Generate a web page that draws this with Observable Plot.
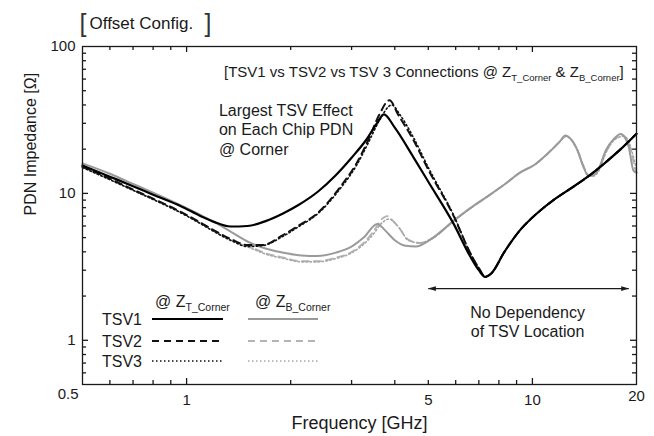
<!DOCTYPE html>
<html><head><meta charset="utf-8">
<script src="https://cdn.jsdelivr.net/npm/d3@7"></script>
<script src="https://cdn.jsdelivr.net/npm/@observablehq/plot@0.6"></script>
<style>
html,body{margin:0;padding:0;background:#fff;}
#chart{width:654px;height:436px;}
</style></head><body><div id="chart"></div>
<script>
// ---------------- data (frequency GHz, impedance Ohm) ----------------
const tsv1Top = [[0.5,15.5],[0.6,13.0],[0.7,11.2],[0.8,9.8],[0.96,8.2],[1.1,7.0],[1.2,6.4],[1.34,5.95],[1.5,6.0],[1.7,6.5],[1.9,7.3],[2.1,8.3],[2.4,10.3],[2.7,13.3],[3.0,17.5],[3.3,23],[3.55,30],[3.72,34.5],[4.0,28],[4.53,17.6],[5.0,12],[5.92,6.2],[6.62,3.7],[7.0,3.0],[7.3,2.7],[7.6,2.85],[8.3,4.0],[9.2,5.6],[10.3,7.3],[11.5,9.0],[12.9,10.8],[14.4,12.9],[16.1,15.9],[18,20],[20,25.5]];
const tsv2Top = [[0.5,15.2],[0.6,12.6],[0.7,10.6],[0.8,9.2],[0.96,7.5],[1.1,6.3],[1.2,5.6],[1.34,4.9],[1.5,4.45],[1.65,4.45],[1.9,5.2],[2.1,6.0],[2.4,7.4],[2.8,11.3],[3.1,16],[3.35,23],[3.6,34],[3.86,43],[4.1,34],[4.53,23],[5.0,14.5],[5.92,7.0],[6.62,3.9],[7.0,3.1],[7.3,2.72],[7.6,2.85],[8.3,4.0],[9.2,5.6],[10.3,7.3],[11.5,9.0],[12.9,10.8],[14.4,12.9],[16.1,15.9],[18,20],[20,25.5]];
const tsv3Top = [[0.5,15.0],[0.6,12.4],[0.7,10.5],[0.8,9.1],[0.96,7.4],[1.1,6.2],[1.2,5.5],[1.34,4.8],[1.5,4.35],[1.65,4.4],[1.9,5.1],[2.1,5.9],[2.4,7.3],[2.8,11.0],[3.1,15.5],[3.35,22],[3.6,31],[3.92,40],[4.15,34],[4.53,24],[5.0,15],[5.92,7.1],[6.62,3.9],[7.0,3.1],[7.3,2.7],[7.6,2.85],[8.3,4.0],[9.2,5.6],[10.3,7.3],[11.5,9.0],[12.9,10.8],[14.4,12.9],[16.1,15.9],[18,20],[20,25.5]];
const tsv1Bottom = [[0.5,16],[0.6,13.6],[0.7,11.6],[0.8,10.1],[0.96,8.3],[1.1,7.1],[1.2,6.4],[1.34,5.5],[1.53,4.6],[1.7,4.2],[1.91,3.95],[2.15,3.78],[2.39,3.75],[2.7,3.95],[2.98,4.3],[3.25,5.0],[3.56,6.2],[3.75,5.6],[4.0,4.8],[4.3,4.4],[4.6,4.35],[5.1,4.9],[5.92,6.5],[6.6,7.9],[7.4,9.5],[8.3,11.5],[9.23,13.9],[10.2,15.8],[11,18.4],[12,22.5],[12.45,24.8],[12.9,23.5],[13.5,19.6],[14.0,15.5],[14.5,13.2],[15.0,13.3],[15.5,14.5],[16.3,19.6],[17.2,23.5],[18,25.4],[18.6,23.5],[19.0,20.6],[19.6,14.3],[20,13.8]];
const tsv2Bottom = [[0.5,15.2],[0.6,12.6],[0.7,10.6],[0.8,9.2],[0.96,7.5],[1.1,6.3],[1.2,5.6],[1.34,4.85],[1.53,4.3],[1.7,3.9],[1.91,3.65],[2.15,3.45],[2.39,3.45],[2.7,3.65],[2.98,3.95],[3.25,4.6],[3.45,5.4],[3.7,6.8],[3.8,7.0],[3.95,6.5],[4.1,5.9],[4.37,4.85],[4.74,4.6],[5.1,4.9],[5.92,6.5],[6.6,7.9],[7.4,9.5],[8.3,11.5],[9.23,13.9],[10.2,15.8],[11,18.4],[12,22.5],[12.5,24.6],[12.95,23.3],[13.5,19.6],[14.0,15.5],[14.5,13.3],[15.0,13.2],[15.5,14.3],[16.3,19.2],[17.3,23.5],[18.2,24.8],[18.8,23],[19.3,19.5],[19.8,14.8],[20,14]];
const tsv3Bottom = [[0.5,15.0],[0.6,12.4],[0.7,10.5],[0.8,9.1],[0.96,7.4],[1.1,6.2],[1.2,5.5],[1.34,4.8],[1.53,4.25],[1.7,3.85],[1.91,3.6],[2.15,3.42],[2.39,3.42],[2.7,3.6],[2.98,3.9],[3.25,4.5],[3.45,5.2],[3.7,6.4],[3.85,6.7],[4.0,6.3],[4.15,5.7],[4.37,4.8],[4.74,4.6],[5.1,4.9],[5.92,6.5],[6.6,7.9],[7.4,9.5],[8.3,11.5],[9.23,13.9],[10.2,15.8],[11,18.4],[12,22.5],[12.5,24.4],[12.95,23.2],[13.5,19.8],[14.0,15.8],[14.5,13.4],[15.0,13.1],[15.5,14.0],[16.3,18.8],[17.3,23.2],[18.4,24.5],[19.0,22.5],[19.5,18.5],[20,14.5]];

const xTickLabels = [1, 5, 10];
const xEndLabel = [20];
const yTickLabels = [1, 10, 100];
const yEndLabel = [0.5];
const xMajorTicks = [1, 10];
const xMinorTicks = [0.6, 0.7, 0.8, 0.9, 2, 3, 4, 5, 6, 7, 8, 9];
const yMajorTicks = [1, 10];
const yMinorTicks = [0.6, 0.7, 0.8, 0.9, 2, 3, 4, 5, 6, 7, 8, 9, 20, 30, 40, 50, 60, 70, 80, 90];
const rangeArrow = [{from: 5, to: 19, level: 2.25}];
const legendRows = ["TSV1", "TSV2", "TSV3"];

// ---------------- layout / style ----------------
const W = 654, H = 436, mL = 82, mR = 18, mT = 46, mB = 52;
const plotH = H - mT - mB, plotW = W - mL - mR;
const FONT = "'Liberation Sans', Arial, Helvetica, sans-serif";
const INK = "#1a1a1a";
const styles = {
  "TSV1 T": {stroke: "#000", strokeWidth: 2.2},
  "TSV2 T": {stroke: "#111", strokeWidth: 2.0, strokeDasharray: "7,5"},
  "TSV3 T": {stroke: "#111", strokeWidth: 1.6, strokeDasharray: "1.5,2.5"},
  "TSV1 B": {stroke: "#9a9a9a", strokeWidth: 2.0},
  "TSV2 B": {stroke: "#b4b4b4", strokeWidth: 1.9, strokeDasharray: "7,5"},
  "TSV3 B": {stroke: "#a8a8a8", strokeWidth: 1.6, strokeDasharray: "1.5,2.5"}
};
const seriesList = [
  ["TSV2 B", tsv2Bottom], ["TSV3 B", tsv3Bottom], ["TSV1 B", tsv1Bottom],
  ["TSV2 T", tsv2Top], ["TSV3 T", tsv3Top], ["TSV1 T", tsv1Top]
];
const tickLen = {minor: 4, major: 6};
const tickStyle = {stroke: INK, strokeWidth: 1.3};

const marks = [
  // inward ticks on all four sides
  Plot.tickX(xMinorTicks, {x: d => d, insetTop: plotH - tickLen.minor, ...tickStyle}),
  Plot.tickX(xMinorTicks, {x: d => d, insetBottom: plotH - tickLen.minor, ...tickStyle}),
  Plot.tickX(xMajorTicks, {x: d => d, insetTop: plotH - tickLen.major, ...tickStyle}),
  Plot.tickX(xMajorTicks, {x: d => d, insetBottom: plotH - tickLen.major, ...tickStyle}),
  Plot.tickY(yMinorTicks, {y: d => d, insetRight: plotW - tickLen.minor, ...tickStyle}),
  Plot.tickY(yMinorTicks, {y: d => d, insetLeft: plotW - tickLen.minor, ...tickStyle}),
  Plot.tickY(yMajorTicks, {y: d => d, insetRight: plotW - tickLen.major, ...tickStyle}),
  Plot.tickY(yMajorTicks, {y: d => d, insetLeft: plotW - tickLen.major, ...tickStyle}),
  // tick labels
  Plot.text(xTickLabels, {x: d => d, frameAnchor: "bottom", dy: 16, lineAnchor: "middle", text: d => String(d), fontSize: 15, fill: INK}),
  Plot.text(xEndLabel, {x: d => d, frameAnchor: "bottom", dy: 12, lineAnchor: "middle", text: d => String(d), fontSize: 15, fill: INK}),
  Plot.text(yTickLabels, {y: d => d, frameAnchor: "left", dx: -7, textAnchor: "end", lineAnchor: "middle", text: d => String(d), fontSize: 15, fill: INK}),
  Plot.text(yEndLabel, {y: d => d, frameAnchor: "left", dx: -4, dy: 10, textAnchor: "end", lineAnchor: "middle", text: d => String(d), fontSize: 15, fill: INK}),
  ...seriesList.map(([name, pts]) => Plot.line(pts, {x: d => d[0], y: d => d[1], curve: "monotone-x", ...styles[name]})),
  Plot.link(rangeArrow, {x1: d => d.from, x2: d => d.to, y1: d => d.level, y2: d => d.level, stroke: INK, strokeWidth: 1.3}),
  Plot.text(["Largest TSV Effect\non Each Chip PDN\n@ Corner"], {x: () => 1.24, y: () => 42, text: d => d, textAnchor: "start", lineAnchor: "top", lineHeight: 1.22, fontSize: 16, fill: INK}),
  Plot.text(["No Dependency\nof TSV Location"], {x: () => 9.68, y: () => 1.74, text: d => d, textAnchor: "middle", lineAnchor: "top", lineHeight: 1.19, fontSize: 16, fill: INK}),
  Plot.text(["Frequency [GHz]"], {frameAnchor: "bottom", dy: 39, lineAnchor: "middle", text: d => d, fontSize: 18, fill: INK}),
  Plot.text(["PDN Impedance [Ω]"], {frameAnchor: "left", dx: -52, rotate: -90, lineAnchor: "middle", text: d => d, fontSize: 16, fill: INK}),
  Plot.text(["Offset Config."], {frameAnchor: "top-left", dx: 7, dy: -23, textAnchor: "start", lineAnchor: "middle", text: d => d, fontSize: 17, fill: INK}),
  Plot.text(["["], {frameAnchor: "top-left", dx: -3, dy: -23, textAnchor: "start", lineAnchor: "middle", text: d => d, fontSize: 25, fill: "#333"}),
  Plot.text(["]"], {frameAnchor: "top-left", dx: 122, dy: -23, textAnchor: "start", lineAnchor: "middle", text: d => d, fontSize: 25, fill: "#333"}),
  Plot.frame({stroke: INK, strokeWidth: 1.3})
];

const chart = Plot.plot({
  width: W, height: H, marginLeft: mL, marginRight: mR, marginTop: mT, marginBottom: mB,
  style: {fontFamily: FONT, background: "#fff", color: INK, overflow: "visible"},
  x: {type: "log", domain: [0.5, 20], axis: null},
  y: {type: "log", domain: [0.5, 100], axis: null},
  marks
});
document.getElementById("chart").appendChild(chart);

// ---------------- decorations: arrow heads, subscripted texts, legend ----------------
const svg = d3.select(chart);
const defs = svg.append("defs");
defs.append("marker").attr("id", "ahead").attr("viewBox", "0 0 10 6").attr("refX", 9.5).attr("refY", 3)
  .attr("markerWidth", 8).attr("markerHeight", 5).attr("markerUnits", "userSpaceOnUse").attr("orient", "auto-start-reverse")
  .append("path").attr("d", "M0,0L10,3L0,6Z").attr("fill", INK);
svg.selectAll('g[aria-label="link"] path').attr("marker-start", "url(#ahead)").attr("marker-end", "url(#ahead)");

function richText(x, y, parts, size, subSize, fill) {
  const t = svg.append("text").attr("x", x).attr("y", y).attr("font-family", FONT)
    .attr("text-anchor", "start").attr("font-size", size).attr("fill", fill || INK);
  let sub = false;
  parts.forEach(([s, isSub]) => {
    const ts = t.append("tspan").text(s);
    if (isSub) { ts.attr("font-size", subSize); if (!sub) ts.attr("dy", 4); sub = true; }
    else if (sub) { ts.attr("dy", -4); sub = false; }
  });
  return t;
}
richText(224, 77, [["[TSV1 vs TSV2 vs TSV 3 Connections @ Z"], ["T_Corner", true], [" & Z"], ["B_Corner", true], ["]"]], 15, 9.5);

// legend
const lg = {labelX: 102, blackX: [152, 223], grayX: [248, 318], rowY: [325, 347, 367]};
richText(155, 307, [["@ Z"], ["T_Corner", true]], 16, 10.5);
richText(255, 307, [["@ Z"], ["B_Corner", true]], 16, 10.5);
const rowStyles = [["TSV1 T", "TSV1 B"], ["TSV2 T", "TSV2 B"], ["TSV3 T", "TSV3 B"]];
legendRows.forEach((label, i) => {
  const y = lg.rowY[i];
  richText(lg.labelX, y, [[label]], 16, 10);
  [[lg.blackX, rowStyles[i][0]], [lg.grayX, rowStyles[i][1]]].forEach(([xs, key]) => {
    const s = styles[key];
    svg.append("line").attr("x1", xs[0]).attr("x2", xs[1]).attr("y1", y - 6).attr("y2", y - 6)
      .attr("stroke", s.stroke).attr("stroke-width", s.strokeWidth)
      .attr("stroke-dasharray", s.strokeDasharray || null);
  });
});
</script>
</body></html>
